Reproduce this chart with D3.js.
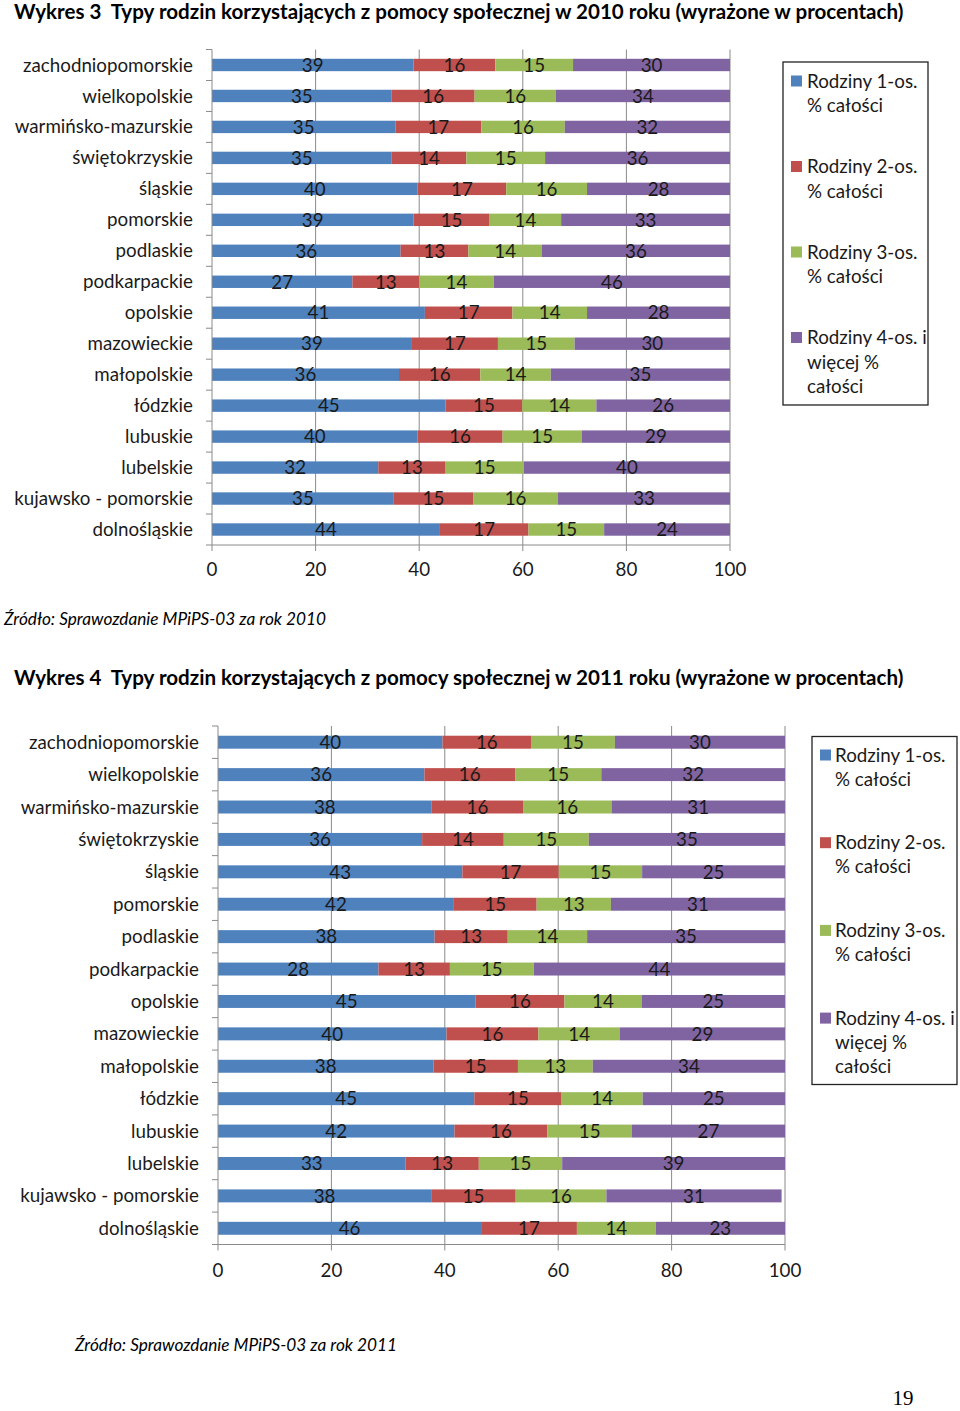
<!DOCTYPE html>
<html>
<head>
<meta charset="utf-8">
<script src="https://cdn.jsdelivr.net/npm/d3@7"></script>
<style>
  html, body { margin: 0; padding: 0; background: #fff; }
  svg { display: block; }
  text { white-space: pre; }
</style>
</head>
<body>
<svg id="page" width="960" height="1411"></svg>
<script>
// ---------------- DATA ----------------
const categories = ["zachodniopomorskie","wielkopolskie","warmińsko-mazurskie","świętokrzyskie","śląskie","pomorskie","podlaskie","podkarpackie","opolskie","mazowieckie","małopolskie","łódzkie","lubuskie","lubelskie","kujawsko - pomorskie","dolnośląskie"];
const seriesNames = [["Rodziny 1-os.","% całości"],["Rodziny 2-os.","% całości"],["Rodziny 3-os.","% całości"],["Rodziny 4-os. i","więcej %","całości"]];
const seriesColors = ["#4F81BD","#C0504D","#9BBB59","#8064A2"];
const xTicks = [0,20,40,60,80,100];

const one2010   = [38.9,34.7,35.4,34.7,39.7,38.9,36.4,27.1,41.1,38.6,36.1,45.1,39.7,32.1,35.1,44.0];
const two2010   = [15.8,16.0,16.6,14.4,17.1,14.7,13.1,12.9,16.9,16.6,15.7,14.8,16.4,13.0,15.3,17.1];
const three2010 = [15.0,15.7,16.1,15.2,15.6,13.8,14.2,14.4,14.4,14.8,13.6,14.3,15.3,15.1,16.4,14.6];
const four2010  = [30.3,33.6,31.9,35.7,27.6,32.6,36.3,45.6,27.6,30.0,34.6,25.8,28.6,39.8,33.2,24.3];

const one2011   = [39.6,36.4,37.7,36.0,43.1,41.6,38.2,28.3,45.4,40.3,38.0,45.2,41.7,33.1,37.6,46.4];
const two2011   = [15.6,16.0,16.1,14.4,17.0,14.6,12.9,12.6,15.7,16.2,14.9,15.4,16.4,12.9,14.9,16.9];
const three2011 = [14.8,15.2,15.6,15.0,14.7,13.1,14.0,14.8,13.6,14.4,13.2,14.3,14.9,14.7,16.0,13.9];
const four2011  = [30.0,32.4,30.6,34.6,25.2,30.7,34.9,44.3,25.3,29.1,33.9,25.1,27.0,39.3,30.9,22.8];

const title2010 = "Wykres 3  Typy rodzin korzystających z pomocy społecznej w 2010 roku (wyrażone w procentach)";
const title2011 = "Wykres 4  Typy rodzin korzystających z pomocy społecznej w 2011 roku (wyrażone w procentach)";
const source2010 = "Źródło: Sprawozdanie MPiPS-03 za rok 2010";
const source2011 = "Źródło: Sprawozdanie MPiPS-03 za rok 2011";
const pageNumber = "19";

// ---------------- DRAWING ----------------
const FONT = "Lato, 'Open Sans', sans-serif";
const svg = d3.select("#page");

function fitSize(text, width, weight, style) {
  const base = 20;
  const t = svg.append("text").attr("font-family", FONT).attr("font-size", base)
    .attr("font-weight", weight || "normal").attr("font-style", style || "normal").text(text);
  const w = t.node().getComputedTextLength();
  t.remove();
  return base * width / w;
}

const baseSize = fitSize("zachodniopomorskie", 170, "normal", "normal");
const titleSize = fitSize(title2010, 890, "bold", "normal");
const sourceSize = fitSize(source2010, 322, "normal", "italic");

const GRID = "#8a8a8a";
const TEXT = "#1a1a1a";

function drawTitle(text, x, y) {
  svg.append("text").attr("x", x).attr("y", y).attr("dy", "0.35em")
    .attr("font-family", FONT).attr("font-weight", "bold").attr("font-size", titleSize)
    .attr("fill", "#000").text(text);
}
function drawSource(text, x, y) {
  svg.append("text").attr("x", x).attr("y", y).attr("dy", "0.35em")
    .attr("font-family", FONT).attr("font-style", "italic").attr("font-size", sourceSize)
    .attr("fill", "#000").text(text);
}

function drawChart(cfg, seriesData) {
  const x = d3.scaleLinear().domain([0, 100]).range([cfg.x0, cfg.x1]);
  const y = d3.scaleBand().domain(categories).range([cfg.top, cfg.bottom])
    .paddingInner(0.6).paddingOuter(0.3);
  const g = svg.append("g");

  // gridlines
  g.selectAll("line.grid").data(xTicks.filter(d => d > 0)).join("line")
    .attr("x1", d => x(d)).attr("x2", d => x(d))
    .attr("y1", cfg.top).attr("y2", cfg.bottom)
    .attr("stroke", GRID).attr("stroke-width", 1);

  // stacked data
  const rows = categories.map((c, i) => {
    let acc = 0;
    return seriesData.map((s, k) => {
      const v = s[i];
      const seg = { cat: c, k, v, x0: acc, x1: acc + v };
      acc += v;
      return seg;
    });
  }).flat();

  g.selectAll("rect.bar").data(rows).join("rect")
    .attr("x", d => x(d.x0)).attr("width", d => x(d.x1) - x(d.x0))
    .attr("y", d => y(d.cat)).attr("height", y.bandwidth())
    .attr("fill", d => seriesColors[d.k]);

  g.selectAll("text.val").data(rows).join("text")
    .attr("x", d => x((d.x0 + d.x1) / 2)).attr("y", d => y(d.cat) + y.bandwidth() / 2)
    .attr("dy", "0.36em").attr("text-anchor", "middle")
    .attr("font-family", FONT).attr("font-size", baseSize).attr("fill", TEXT)
    .text(d => Math.round(d.v));

  // y axis line & ticks at band boundaries
  g.append("line").attr("x1", cfg.x0).attr("x2", cfg.x0).attr("y1", cfg.top).attr("y2", cfg.bottom)
    .attr("stroke", GRID).attr("stroke-width", 1);
  const bounds = d3.range(categories.length + 1).map(i => cfg.top + i * y.step());
  g.selectAll("line.ytick").data(bounds).join("line")
    .attr("x1", cfg.x0 - 6).attr("x2", cfg.x0).attr("y1", d => d).attr("y2", d => d)
    .attr("stroke", GRID).attr("stroke-width", 1);

  // category labels
  g.selectAll("text.cat").data(categories).join("text")
    .attr("x", cfg.x0 - 19).attr("y", d => y(d) + y.bandwidth() / 2)
    .attr("dy", "0.35em").attr("text-anchor", "end")
    .attr("font-family", FONT).attr("font-size", baseSize).attr("fill", TEXT)
    .text(d => d);

  // x axis
  g.append("line").attr("x1", cfg.x0).attr("x2", cfg.x1).attr("y1", cfg.bottom).attr("y2", cfg.bottom)
    .attr("stroke", GRID).attr("stroke-width", 1);
  g.selectAll("line.xtick").data(xTicks).join("line")
    .attr("x1", d => x(d)).attr("x2", d => x(d)).attr("y1", cfg.bottom).attr("y2", cfg.bottom + 6)
    .attr("stroke", GRID).attr("stroke-width", 1);
  g.selectAll("text.xlab").data(xTicks).join("text")
    .attr("x", d => x(d)).attr("y", cfg.tickY).attr("dy", "0.35em").attr("text-anchor", "middle")
    .attr("font-family", FONT).attr("font-size", baseSize).attr("fill", TEXT)
    .text(d => d);

  // legend
  const L = cfg.legend;
  g.append("rect").attr("x", L.x).attr("y", L.y).attr("width", L.w).attr("height", L.h)
    .attr("fill", "#fff").attr("stroke", "#222").attr("stroke-width", 1.3);
  seriesNames.forEach((lines, k) => {
    const ly = L.firstLine + k * L.entryGap;
    g.append("rect").attr("x", L.sqX).attr("y", ly - 5.5).attr("width", 11).attr("height", 11)
      .attr("fill", seriesColors[k]);
    lines.forEach((ln, j) => {
      g.append("text").attr("x", L.textX).attr("y", ly + j * L.lineGap).attr("dy", "0.35em")
        .attr("font-family", FONT).attr("font-size", baseSize).attr("fill", TEXT).text(ln);
    });
  });
}

drawTitle(title2010, 14, 11.5);
drawChart({
  x0: 212, x1: 730, top: 49.5, bottom: 545, tickY: 569,
  legend: { x: 783, y: 62, w: 145, h: 343, sqX: 791, textX: 807, firstLine: 81, entryGap: 85.5, lineGap: 24.5 }
}, [one2010, two2010, three2010, four2010]);
drawSource(source2010, 4, 619);

drawTitle(title2011, 14, 678);
drawChart({
  x0: 218, x1: 785, top: 726, bottom: 1244.5, tickY: 1270,
  legend: { x: 812, y: 736.5, w: 145, h: 348, sqX: 820, textX: 835, firstLine: 755, entryGap: 87.7, lineGap: 24.2 }
}, [one2011, two2011, three2011, four2011]);
drawSource(source2011, 75, 1345);

svg.append("text").attr("x", 903).attr("y", 1398).attr("dy", "0.35em").attr("text-anchor", "middle")
  .attr("font-family", "'Liberation Serif', serif").attr("font-size", 21).attr("fill", "#000")
  .text(pageNumber);
</script>
</body>
</html>
